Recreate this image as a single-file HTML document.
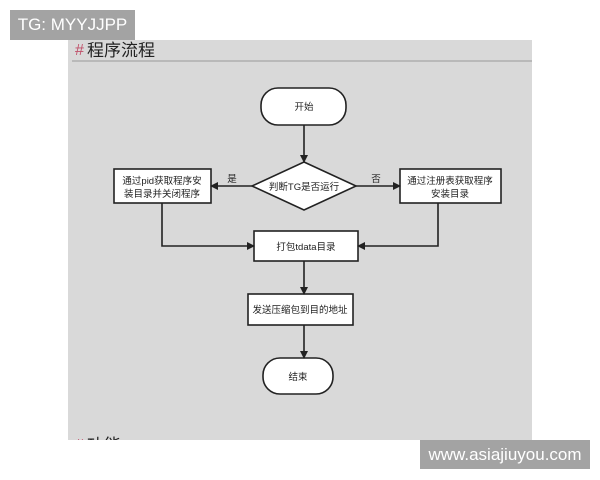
<!DOCTYPE html>
<html><head><meta charset="utf-8"><style>
body{margin:0;width:600px;height:480px;background:#fff;position:relative;overflow:hidden;font-family:"Liberation Sans","Noto Sans CJK SC",sans-serif}
.wm{position:absolute;background:#a3a3a3;color:#fff;font-size:17px;display:flex;align-items:center;justify-content:center}
</style></head><body>
<div style="position:absolute;left:68px;top:40px;width:464px;height:400px;background:#d9d9d9"></div>
<svg style="position:absolute;left:0;top:0" width="600" height="480" font-family="Liberation Sans, Noto Sans CJK SC, sans-serif">
<defs><marker id="a" markerWidth="8" markerHeight="8" refX="7" refY="4" orient="auto" markerUnits="userSpaceOnUse"><path d="M0,0 L8,4 L0,8 z" fill="#222"/></marker>
<clipPath id="c"><rect x="68" y="40" width="464" height="400"/></clipPath></defs>
<text x="75" y="55" font-size="16" fill="#c0506a">#</text>
<text x="87" y="56" font-size="17" fill="#222">程序流程</text>
<line x1="72" y1="61" x2="532" y2="61" stroke="#999"/>
<g clip-path="url(#c)"><text x="75" y="450" font-size="16" fill="#c0506a">#</text>
<text x="87" y="451" font-size="17" fill="#222">功能</text></g>
<g stroke="#222" stroke-width="1.6" fill="#fff">
<rect x="261" y="88" width="85" height="37" rx="17"/>
<polygon points="304,162 356,186 304,210 252,186"/>
<rect x="114" y="169" width="97" height="34"/>
<rect x="400" y="169" width="101" height="34"/>
<rect x="254" y="231" width="104" height="30"/>
<rect x="248" y="294" width="105" height="31"/>
<rect x="263" y="358" width="70" height="36" rx="17"/>
</g>
<g stroke="#222" stroke-width="1.6" fill="none" marker-end="url(#a)">
<line x1="304" y1="125" x2="304" y2="162"/>
<line x1="252" y1="186" x2="211" y2="186"/>
<line x1="356" y1="186" x2="400" y2="186"/>
<polyline points="162,203 162,246 254,246"/>
<polyline points="438,203 438,246 358,246"/>
<line x1="304" y1="261" x2="304" y2="294"/>
<line x1="304" y1="325" x2="304" y2="358"/>
</g>
<g font-size="9.5" fill="#222" text-anchor="middle">
<text x="304" y="110">开始</text>
<text x="304" y="190">判断TG是否运行</text>
<text x="162" y="184">通过pid获取程序安</text>
<text x="162" y="197">装目录并关闭程序</text>
<text x="450" y="184">通过注册表获取程序</text>
<text x="450" y="197">安装目录</text>
<text x="306" y="250">打包tdata目录</text>
<text x="300" y="313">发送压缩包到目的地址</text>
<text x="298" y="380">结束</text>
<text x="232" y="182">是</text>
<text x="376" y="182">否</text>
</g>
</svg>
<div class="wm" style="left:10px;top:10px;width:125px;height:30px">TG: MYYJJPP</div>
<div class="wm" style="left:420px;top:440px;width:170px;height:29px">www.asiajiuyou.com</div>
</body></html>
